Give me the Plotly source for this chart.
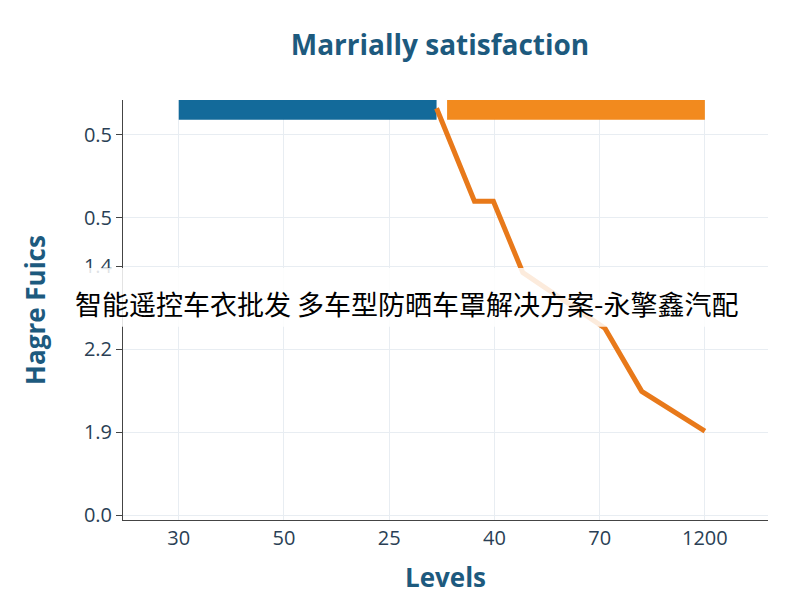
import plotly.graph_objects as go

# Datos
x_labels = ["30", "50", "25", "40", "70", "1200"]
y_tick_vals = [0, 1, 2, 3, 3.58, 4.58]
y_tick_text = ["0.0", "1.9", "2.2", "1.4", "0.5", "0.5"]

line_x = [2.45, 2.81, 2.99, 3.27, 4.05, 4.4, 5.0]
line_y = [4.9, 3.78, 3.78, 2.92, 2.25, 1.49, 1.01]

blue_bar = [0, 2.45]
orange_bar = [2.55, 5.0]
bar_level = 4.9

title_color = "#1d5a7e"
orange = "#f28a1e"
blue = "#136a9a"

fig = go.Figure()

fig.add_trace(go.Scatter(x=blue_bar, y=[bar_level, bar_level], mode="lines",
                         line=dict(color=blue, width=23), hoverinfo="skip"))
fig.add_trace(go.Scatter(x=orange_bar, y=[bar_level, bar_level], mode="lines",
                         line=dict(color=orange, width=23), hoverinfo="skip"))
fig.add_trace(go.Scatter(x=line_x, y=line_y, mode="lines",
                         line=dict(color="#e8791a", width=5)))

fig.update_layout(
    width=800, height=600,
    showlegend=False,
    plot_bgcolor="white", paper_bgcolor="white",
    margin=dict(l=115, r=40, t=92, b=88),
    font=dict(family="Open Sans, sans-serif", color=title_color),
    title=dict(text="<b>Marrially satisfaction</b>", x=0.54, xanchor="center",
               y=0.955, font=dict(size=28, color=title_color)),
    xaxis=dict(range=[-0.53, 5.6], tickvals=list(range(len(x_labels))),
               ticktext=x_labels, tickfont=dict(size=20, color="#2a3f55"),
               showgrid=True, gridcolor="#e8edf2", zeroline=False,
               showline=True, linecolor="#444", ticks="",
               title=dict(text="<b>Levels</b>", font=dict(size=26, color=title_color),
                          standoff=18)),
    yaxis=dict(range=[-0.06, 5.0], tickvals=y_tick_vals, ticktext=y_tick_text,
               tickfont=dict(size=20, color="#2a3f55"),
               showgrid=True, gridcolor="#e8edf2", zeroline=False,
               showline=True, linecolor="#444", ticks="outside", ticklen=6,
               tickcolor="#444",
               title=dict(text="<b>Hagre Fuics</b>", font=dict(size=26, color=title_color),
                          standoff=30)),
)

# Banda con texto superpuesto
fig.add_shape(type="rect", xref="paper", yref="paper", x0=-0.25, x1=1.1,
              y0=0.46, y1=0.60, fillcolor="rgba(255,255,255,0.85)", line_width=0)
fig.add_annotation(text="智能遥控车衣批发 多车型防晒车罩解决方案-永擎鑫汽配",
                   xref="paper", yref="paper", x=0.44, y=0.515, showarrow=False,
                   font=dict(family="Noto Sans CJK SC", size=27, color="black"))

fig.write_html("out.html")
